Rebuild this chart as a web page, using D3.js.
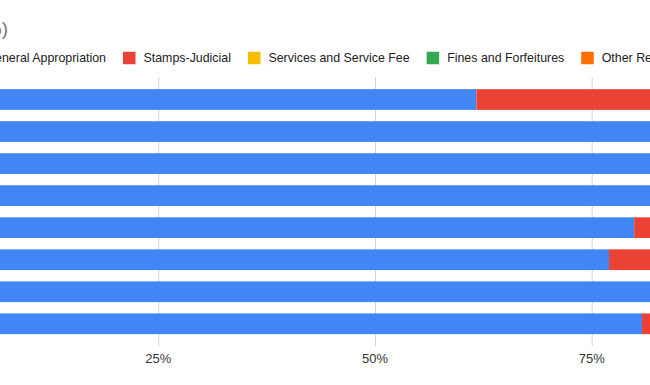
<!DOCTYPE html>
<html>
<meta charset="UTF-8">
<head>
    <title>Revenue Share by Source</title>
    <script src="https://d3js.org/d3.v7.min.js"></script>
    <style>
        body { margin: 0; background: #fff; font-family: "Liberation Sans", Arial, sans-serif; }
        svg { display: block; }
        .gridLines line { stroke: #d4d4d4; }
        .gridLines .domain { stroke: none; }
    </style>
</head>
<body>
    <svg id="graph" width="650" height="385"></svg>
</body>
<script>
    // --- data (share of each year's revenue, in %)
    const years = ["FY 2015", "FY 2016", "FY 2017", "FY 2018", "FY 2019", "FY 2020", "FY 2021", "FY 2022"];
    const seriesNames = ["General Appropriation", "Stamps-Judicial", "Services and Service Fee", "Fines and Forfeitures", "Other Revenue"];
    const generalAppropriation = [61.7, 96.0, 95.5, 97.0, 79.9, 77.0, 94.0, 80.8];
    const stampsJudicial       = [38.3, 2.0, 2.5, 1.5, 20.1, 23.0, 3.0, 19.2];
    const servicesFee          = [0, 1.0, 1.0, 0.8, 0, 0, 1.5, 0];
    const finesForfeitures     = [0, 0.6, 0.6, 0.4, 0, 0, 1.0, 0];
    const otherRevenue         = [0, 0.4, 0.4, 0.3, 0, 0, 0.5, 0];
    const xTicks = [0, 0.25, 0.5, 0.75, 1];
    const colors = ["#4285f4", "#ea4335", "#fbbc04", "#34a853", "#ff6d01"];

    const g = d3.select("svg#graph");
    const legendFont = 12.4;
    const axisFont = 13;

    // chart area (the picture is a crop, so 0% and 100% fall outside the window)
    const xLeft = -58.4, xRight = 808.4;
    const yTop = 77.3, yBottom = 346;

    const rows = years.map((y, i) => ({
        year: y,
        "General Appropriation": generalAppropriation[i],
        "Stamps-Judicial": stampsJudicial[i],
        "Services and Service Fee": servicesFee[i],
        "Fines and Forfeitures": finesForfeitures[i],
        "Other Revenue": otherRevenue[i]
    }));

    const stack = d3.stack().keys(seriesNames).offset(d3.stackOffsetExpand);
    const stacked = stack(rows);

    const xScale = d3.scaleLinear().domain([0, 1]).range([xLeft, xRight]);
    const yScale = d3.scaleBand().domain(years).range([yTop, yBottom])
        .paddingInner(0.353).paddingOuter(0.37);
    const colorScale = d3.scaleOrdinal().domain(seriesNames).range(colors);

    // --- gridlines
    const gridLines = d3.axisBottom(xScale).tickValues(xTicks)
        .tickSize(-(yBottom - yTop)).tickFormat("");
    g.append("g").attr("class", "gridLines")
        .attr("transform", `translate(0,${yBottom})`)
        .call(gridLines);

    // --- bars
    g.append("g").selectAll("g")
        .data(stacked)
        .join("g")
        .attr("fill", d => colorScale(d.key))
        .selectAll("rect")
        .data(d => d)
        .join("rect")
        .attr("x", d => xScale(d[0]))
        .attr("width", d => xScale(d[1]) - xScale(d[0]))
        .attr("y", d => yScale(d.data.year))
        .attr("height", yScale.bandwidth());

    // --- x tick labels
    g.append("g").selectAll("text")
        .data(xTicks)
        .join("text")
        .attr("x", d => xScale(d))
        .attr("y", yBottom + 17)
        .attr("text-anchor", "middle")
        .attr("font-size", axisFont)
        .attr("fill", "#333")
        .text(d3.format(".0%"));

    // --- category labels (off to the left of the crop)
    g.append("g").selectAll("text")
        .data(years)
        .join("text")
        .attr("x", xLeft - 8)
        .attr("y", d => yScale(d) + yScale.bandwidth() / 2)
        .attr("dy", "0.35em")
        .attr("text-anchor", "end")
        .attr("font-size", axisFont)
        .attr("fill", "#333")
        .text(d => d);

    // --- title (only its closing bracket shows in the crop)
    g.append("text")
        .attr("x", 8)
        .attr("y", 35)
        .attr("text-anchor", "end")
        .attr("font-size", 19)
        .attr("fill", "#757575")
        .text("Court Revenue by Source (%)");

    // --- legend, laid out from the measured text widths
    const legend = g.append("g").attr("transform", "translate(0,58)");
    const items = legend.selectAll("g").data(seriesNames).join("g");
    items.append("rect")
        .attr("width", 12.5).attr("height", 12.5)
        .attr("y", -6.25)
        .attr("fill", d => colorScale(d));
    items.append("text")
        .attr("x", 20.5)
        .attr("dy", "0.35em")
        .attr("font-size", legendFont)
        .attr("fill", "#222")
        .text(d => d);

    const widths = [];
    items.select("text").each(function() { widths.push(this.getComputedTextLength()); });
    // the first label ends where the red swatch's gap begins
    let cursor = 106 - widths[0] - 20.5;
    items.attr("transform", (d, i) => {
        const pos = cursor;
        cursor += 20.5 + widths[i] + 17;
        return `translate(${pos},0)`;
    });
</script>
</html>
